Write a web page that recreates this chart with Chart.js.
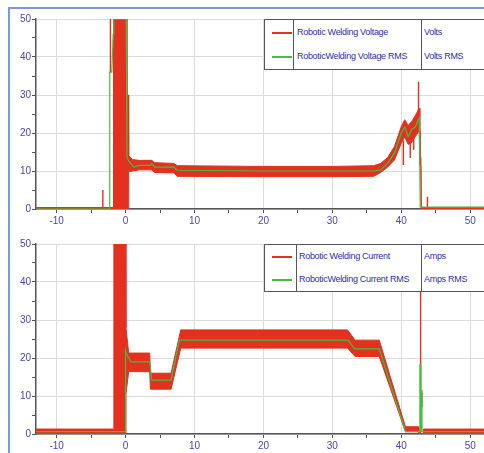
<!DOCTYPE html>
<html>
<head>
<meta charset="utf-8">
<script src="https://cdn.jsdelivr.net/npm/chart.js@4"></script>
<style>
  body { margin: 0; width: 484px; height: 453px; overflow: hidden; background: #fff; position: relative; font-family: "Liberation Sans", Arial, sans-serif; }
  #frame { position: absolute; left: 8px; top: 7px; width: 480px; height: 450px; border-left: 2px solid #7b9bd0; border-top: 2px solid #7b9bd0; }
  .box { position: absolute; left: 10px; width: 474px; }
  .leg { position: absolute; left: 264px; width: 224px; background: #fff; border: 1px solid #555; box-sizing: border-box; }
  .sep { position: absolute; top: 0; bottom: 0; width: 1px; background: #555; }
  .sw { position: absolute; left: 7px; width: 20px; height: 1.5px; }
  .txt { position: absolute; font-size: 9px; letter-spacing: -0.3px; color: #2f2fa8; white-space: nowrap; line-height: 12px; }
</style>
</head>
<body>
<div id="frame"></div>
<div class="box" style="top:9px;height:223px;"><canvas id="voltChart"></canvas></div>
<div class="box" style="top:232px;height:221px;"><canvas id="ampChart"></canvas></div>

<div class="leg" style="top:19px;height:51px;">
  <div class="sep" style="left:28px"></div>
  <div class="sep" style="left:156px"></div>
  <div class="sw" style="top:12px;background:#e3301f"></div>
  <div class="sw" style="top:36px;background:#40c040"></div>
  <div class="txt" style="left:32px;top:6px">Robotic Welding Voltage</div>
  <div class="txt" style="left:32px;top:30px">RoboticWelding Voltage RMS</div>
  <div class="txt" style="left:159px;top:6px">Volts</div>
  <div class="txt" style="left:159px;top:30px">Volts RMS</div>
</div>

<div class="leg" style="top:244px;height:48px;">
  <div class="sep" style="left:31px"></div>
  <div class="sep" style="left:156px"></div>
  <div class="sw" style="top:11px;background:#e3301f"></div>
  <div class="sw" style="top:34px;background:#40c040"></div>
  <div class="txt" style="left:34px;top:5px">Robotic Welding Current</div>
  <div class="txt" style="left:34px;top:28px">RoboticWelding Current RMS</div>
  <div class="txt" style="left:159px;top:5px">Amps</div>
  <div class="txt" style="left:159px;top:28px">Amps RMS</div>
</div>

<script>
// tick labels (minor ticks sit halfway between them)
const xTickLabels = [-10, 0, 10, 20, 30, 40, 50];
const yTickLabels = [0, 10, 20, 30, 40, 50];

// voltage: noisy band (upper / lower edge), spikes, RMS
const voltEnvX  = [-13, -1.8, -1.75, 0.15, 0.2, 0.4, 0.45, 1.0, 2.0, 3.8, 4.2, 7.0, 7.5, 20, 30, 36, 37, 38, 39, 40, 40.5, 41, 41.5, 42, 42.6, 42.7, 42.85, 42.9, 52];
const voltEnvHi = [0.4, 0.4, 50, 50, 30, 30, 14, 13, 12.8, 12.8, 12.2, 12.0, 11.4, 11.2, 11.2, 11.4, 12, 13.5, 16.4, 21.7, 23.5, 22, 23, 24.5, 26.5, 14, 13.5, 0.4, 0.4];
const voltEnvLo = [0, 0, 0, 0, 0, 0, 9.8, 10, 10.3, 10.3, 9.6, 9.5, 8.6, 8.5, 8.5, 8.6, 9.6, 11, 12.9, 17.3, 19, 17, 17.5, 19, 20.5, 12, 11, 0, 0];
const voltSpikeX = [-3.3, -3.3, -3.3, -2.2, -2.2, -2.2, 40.3, 40.3, 40.3, 41.3, 41.3, 41.3, 41.8, 41.8, 41.8, 42.5, 42.5, 42.5, 43.8, 43.8];
const voltSpikeY = [0, 5, null, 36, 50, null, 18, 11.6, null, 18, 13.4, null, 19, 15.5, null, 22, 33.5, null, 0, 3.2];
const voltRmsX = [-13, -2.35, -2.3, -2.0, -1.8, -1.7, 0.1, 0.2, 0.5, 1.2, 1.6, 2.0, 3.6, 3.8, 4.2, 7, 7.5, 20, 36, 37, 38, 39, 40, 40.5, 41, 41.5, 42, 42.6, 42.75, 43, 52];
const voltRmsY = [0, 0, 36, 36, 46, 50, 50, 13.5, 12.5, 11, 11.3, 11.5, 11.5, 12, 11, 11, 10.2, 10, 10, 10.3, 12, 14.7, 20, 21.6, 19, 21, 21.5, 24, 0.5, 0.5, 0.5];

// current: noisy band, spikes, RMS
const ampEnvX  = [-13, -1.75, -1.7, 0, 0.05, 0.45, 3.5, 3.6, 6.6, 8.0, 32.2, 33.3, 36.8, 40.6, 42.5, 42.55, 43.15, 43.2, 52];
const ampEnvHi = [1.3, 1.3, 50, 50, 28, 21.3, 21.3, 16, 16, 27.4, 27.4, 24.7, 24.7, 1.9, 1.9, 0, 0, 1.3, 1.3];
const ampEnvLo = [0, 0, 0, 0, 10.5, 16.4, 16.4, 11.8, 11.8, 22.6, 22.6, 20.4, 20.4, 0.6, 0.6, 0, 0, 0, 0];
const ampSpikeX = [42.8, 42.8, 42.8, 43.0, 43.0];
const ampSpikeY = [0, 50, null, 7.1, 10.8];
const ampRmsX = [-13, -0.05, 0, 0.15, 0.8, 3.5, 3.8, 6.6, 7.8, 32.3, 33.2, 36.8, 40.6, 42.65, 42.7, 42.8, 42.85, 42.95, 43.0, 52];
const ampRmsY = [0.6, 0.6, 22, 21, 19, 19, 14.2, 14.2, 24.7, 24.7, 22.4, 22.4, 0.6, 0.6, 18.2, 18.2, 0.6, 11.6, 0.6, 0.6];

const RED = '#e3301f';
const GREEN = '#40c040';

function pts(xs, ys) {
  return xs.map((x, i) => ({ x: x, y: ys[i] }));
}

// major label ticks plus one minor tick halfway to the next
function withMinor(labels) {
  const out = [];
  labels.forEach((v, i) => {
    out.push({ value: v });
    if (i < labels.length - 1) out.push({ value: (v + labels[i + 1]) / 2 });
  });
  return out;
}

function makeSets(envX, hi, lo, spX, spY, rmsX, rmsY) {
  return [
    { data: pts(rmsX, rmsY), borderColor: GREEN, borderWidth: 1.2 },
    { data: pts(envX, hi), borderColor: RED, borderWidth: 1, backgroundColor: RED, fill: '+1' },
    { data: pts(envX, lo), borderColor: RED, borderWidth: 1 },
    { data: pts(spX, spY), borderColor: RED, borderWidth: 1.4, spanGaps: false }
  ];
}

function makeChart(id, datasets, padTop, xAxisH) {
  const ctx = document.getElementById(id).getContext('2d');
  return new Chart(ctx, {
    type: 'scatter',
    data: { datasets: datasets },
    options: {
      responsive: true,
      maintainAspectRatio: false,
      animation: false,
      showLine: true,
      layout: { padding: { top: padTop, left: 0, right: 0, bottom: 0 } },
      elements: { point: { radius: 0 }, line: { tension: 0 } },
      plugins: { legend: { display: false }, tooltip: { enabled: false } },
      scales: {
        x: {
          type: 'linear',
          min: -13,
          max: 52,
          afterBuildTicks: s => { s.ticks = withMinor(xTickLabels); },
          afterFit: s => { s.height = xAxisH; },
          border: { color: '#555', width: 1.5 },
          grid: {
            color: c => xTickLabels.includes(c.tick.value) ? '#dcdcdc' : 'transparent',
            tickColor: '#555',
            tickLength: 4
          },
          ticks: {
            autoSkip: false,
            maxRotation: 0,
            padding: 2,
            color: '#4646b4',
            font: { family: 'Liberation Sans', size: 10 },
            callback: v => xTickLabels.includes(v) ? v : ''
          }
        },
        y: {
          min: 0,
          max: 50,
          afterBuildTicks: s => { s.ticks = withMinor(yTickLabels); },
          afterFit: s => { s.width = 26; },
          border: { color: '#555', width: 1.5 },
          grid: {
            color: c => yTickLabels.includes(c.tick.value) ? '#dcdcdc' : 'transparent',
            tickColor: '#555',
            tickLength: 4
          },
          ticks: {
            padding: 1,
            color: '#4646b4',
            font: { family: 'Liberation Sans', size: 10 },
            callback: v => yTickLabels.includes(v) ? v : ''
          }
        }
      }
    }
  });
}

makeChart('voltChart', makeSets(voltEnvX, voltEnvHi, voltEnvLo, voltSpikeX, voltSpikeY, voltRmsX, voltRmsY), 10, 23);
makeChart('ampChart', makeSets(ampEnvX, ampEnvHi, ampEnvLo, ampSpikeX, ampSpikeY, ampRmsX, ampRmsY), 12, 19);
</script>
</body>
</html>
